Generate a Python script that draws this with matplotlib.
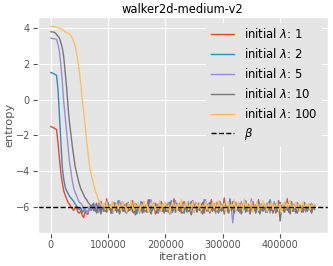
import numpy as np
import matplotlib
matplotlib.use('Agg')
import matplotlib.pyplot as plt

plt.style.use('ggplot')

# ==================== data ====================
iteration = np.arange(0, 460001, 2500)   # logging steps

entropy_lam1 = [
    -1.50, -1.54, -1.58, -1.63, -1.68, -2.40, -3.30, -4.10, -4.65, -5.10, -5.35, -5.55, -5.75, -5.85, -6.00,
    -6.10, -6.20, -6.00, -6.10, -6.30, -6.35, -6.20, -6.50, -6.60, -6.20, -6.40, -6.40, -6.00, -6.10,
    -5.85, -6.20, -6.00, -5.80, -6.30, -6.05, -5.70, -6.15, -5.95, -6.25, -5.55, -6.10,
    -5.90, -6.35, -6.00, -5.75, -6.20, -5.85, -6.10, -6.30, -5.95, -5.70, -6.15, -6.05,
    -5.80, -6.25, -5.90, -6.10, -5.65, -6.35, -6.00, -5.85, -6.20, -5.95, -6.10, -5.75,
    -6.30, -5.90, -6.05, -5.60, -6.20, -5.95, -6.15, -5.80, -6.40, -6.00, -5.85, -6.10,
    -5.70, -6.25, -5.95, -6.05, -5.85, -6.30, -5.75, -6.10, -6.00, -5.55, -6.20, -5.90,
    -6.15, -5.80, -6.35, -6.00, -5.70, -6.10, -5.90, -6.25, -5.85, -6.05, -5.65, -6.30,
    -5.95, -6.10, -5.80, -6.20, -6.00, -5.75, -6.35, -5.90, -6.15, -5.85, -6.05, -5.60,
    -6.25, -5.90, -6.10, -5.75, -6.30, -6.00, -5.85, -6.20, -5.50, -6.10, -5.95, -6.35,
    -5.80, -6.05, -5.70, -6.25, -5.90, -6.15, -6.00, -5.80, -6.30, -5.95, -6.10, -5.75,
    -6.20, -5.85, -6.40, -6.00, -5.70, -6.15, -5.90, -6.05, -5.60, -6.25, -5.95, -6.10,
    -5.85, -6.30, -6.00, -5.75, -6.20, -5.90, -6.10, -5.80, -6.35, -6.05, -5.65, -6.15,
    -5.95, -6.20, -5.80, -6.10, -5.55, -6.30, -6.00, -5.85, -6.25, -5.90, -6.05, -5.75,
    -6.15, -5.90, -6.30, -6.00, -5.80, -6.20, -5.95, -6.10, -5.85, -6.25, -6.00, -5.90,
]

entropy_lam2 = [
    1.52, 1.49, 1.45, 1.41, 1.36, 0.60, -0.85, -2.30, -3.80, -4.45, -4.88, -5.10, -5.25, -5.40, -5.50,
    -5.60, -5.70, -5.85, -5.95, -6.10, -6.15, -6.05, -6.30, -6.20, -6.10, -6.35, -6.25, -6.00, -6.20,
    -6.05, -5.80, -6.25, -5.95, -6.10, -5.70, -6.30, -6.00, -5.85, -6.20, -6.05, -5.75,
    -6.15, -5.90, -6.35, -6.00, -5.80, -6.10, -5.65, -6.25, -5.95, -6.05, -5.85, -6.30,
    -6.00, -5.75, -6.20, -5.90, -6.15, -6.05, -5.80, -6.40, -5.95, -6.10, -5.70, -6.25,
    -5.85, -6.05, -6.30, -5.90, -5.60, -6.15, -6.00, -5.80, -6.20, -5.95, -6.35, -6.05,
    -5.75, -6.10, -5.90, -6.25, -6.00, -5.85, -6.15, -5.65, -6.30, -5.95, -6.05, -5.80,
    -6.20, -5.90, -6.10, -5.75, -6.35, -6.00, -5.85, -6.20, -5.95, -5.70, -6.15, -6.05,
    -5.80, -6.25, -5.95, -6.10, -5.85, -6.30, -5.60, -6.05, -5.90, -6.20, -5.75, -6.10,
    -6.00, -5.85, -6.35, -5.95, -6.15, -5.70, -6.25, -6.00, -5.80, -6.10, -5.90, -6.30,
    -5.55, -6.05, -5.90, -6.20, -5.75, -6.15, -6.00, -5.85, -6.30, -5.95, -6.10, -5.65,
    -6.25, -5.90, -6.05, -5.80, -6.20, -5.95, -6.35, -6.00, -5.75, -6.15, -5.85, -6.10,
    -5.95, -6.30, -5.80, -6.05, -5.60, -6.20, -5.90, -6.10, -5.85, -6.25, -6.00, -5.75,
    -6.15, -5.90, -6.30, -5.95, -6.05, -5.80, -6.20, -5.70, -6.10, -5.95, -6.35, -6.00,
    -5.85, -6.10, -5.95, -6.25, -5.75, -6.05, -6.20, -5.90, -6.10, -5.85, -6.00, -6.15,
]

entropy_lam5 = [
    3.44, 3.43, 3.41, 3.40, 3.38, 3.10, 2.70, 1.95, 1.03, -0.10, -0.95, -1.75, -2.70, -3.45, -4.00,
    -4.55, -4.95, -5.20, -5.37, -5.60, -5.75, -5.80, -5.92, -6.15, -6.10, -6.35, -6.30, -6.00, -6.20,
    -5.95, -6.20, -5.85, -6.10, -6.30, -5.75, -6.05, -5.90, -6.25, -6.00, -5.70, -6.15,
    -5.90, -6.05, -6.35, -5.80, -6.10, -5.95, -6.20, -5.65, -6.00, -6.25, -5.85, -6.10,
    -6.30, -5.90, -6.05, -5.75, -6.20, -6.00, -5.85, -6.15, -5.95, -6.35, -5.80, -6.05,
    -5.70, -6.25, -5.90, -6.10, -6.00, -5.60, -6.20, -5.95, -6.05, -5.85, -6.30, -6.00,
    -6.15, -5.80, -6.10, -5.95, -6.25, -5.75, -6.05, -6.35, -5.90, -6.00, -5.65, -6.20,
    -5.85, -6.10, -5.95, -6.30, -5.80, -6.05, -6.15, -5.70, -6.25, -5.90, -6.00, -6.10,
    -5.75, -6.20, -6.05, -5.85, -6.35, -5.95, -6.10, -5.60, -6.00, -6.25, -5.90, -6.15,
    -6.00, -5.80, -6.30, -5.95, -6.10, -5.75, -6.20, -6.05, -5.85, -6.15, -5.95, -6.30,
    -5.90, -6.10, -6.90, -6.05, -5.80, -6.20, -5.95, -6.35, -5.70, -6.10, -6.00, -5.85,
    -6.25, -5.95, -6.05, -5.55, -6.20, -5.90, -6.15, -5.75, -6.30, -6.00, -5.85, -6.10,
    -5.95, -6.25, -5.80, -6.05, -6.35, -5.90, -6.10, -5.70, -6.20, -5.95, -6.05, -5.85,
    -6.15, -5.90, -6.30, -5.75, -6.05, -6.20, -5.95, -6.10, -5.85, -6.25, -6.00, -5.80,
    -6.10, -5.95, -6.20, -5.85, -6.05, -6.30, -5.90, -6.15, -6.00, -5.80, -6.10, -5.95,
]

entropy_lam10 = [
    3.80, 3.79, 3.78, 3.74, 3.65, 3.55, 3.45, 3.20, 2.90, 2.40, 1.58, 0.70, -0.36, -1.25, -1.93,
    -2.60, -3.18, -3.75, -4.10, -4.45, -4.75, -5.00, -5.15, -5.35, -5.50, -5.60, -5.75, -5.85, -5.95,
    -6.05,
    -6.20, -6.05, -6.35, -5.95, -6.15, -6.40, -6.00, -6.25, -5.85, -6.30, -6.10, -5.90,
    -6.35, -6.05, -6.20, -5.80, -6.30, -6.10, -6.40, -5.95, -6.15, -6.25, -5.90, -6.35,
    -6.05, -6.20, -5.85, -6.30, -6.00, -6.45, -6.10, -5.95, -6.25, -6.05, -6.35, -5.90,
    -6.15, -6.30, -5.95, -6.20, -6.40, -6.00, -6.10, -5.80, -6.35, -6.15, -6.00, -6.25,
    -5.90, -6.35, -6.10, -6.25, -5.95, -6.40, -6.05, -6.20, -5.85, -6.30, -6.10, -6.00,
    -6.25, -5.95, -6.35, -6.10, -6.00, -6.30, -5.85, -6.20, -6.45, -6.05, -6.15, -5.90,
    -6.30, -6.05, -6.20, -5.95, -6.40, -6.10, -6.00, -6.25, -5.80, -6.35, -6.15, -6.05,
    -5.95, -6.25, -6.10, -6.35, -6.00, -6.20, -5.90, -6.40, -6.05, -6.15, -6.30, -5.85,
    -6.20, -6.00, -6.35, -6.10, -5.95, -6.25, -6.05, -6.40, -6.15, -5.90, -6.30, -6.05,
    -6.10, -6.35, -5.95, -6.20, -6.05, -6.30, -5.85, -6.15, -6.40, -6.00, -6.25, -6.10,
    -5.95, -6.30, -6.05, -6.20, -5.90, -6.35, -6.10, -6.00, -6.25, -5.85, -6.80, -6.15,
    -6.05, -6.30, -5.95, -6.20, -6.10, -6.40, -6.00, -6.25, -5.90, -6.15, -6.35, -6.05,
    -6.20, -5.95, -6.30, -6.10, -6.00, -6.25, -5.85, -6.15, -6.35, -6.05, -5.95,
]

entropy_lam100 = [
    4.09, 4.09, 4.08, 4.07, 4.05, 4.03, 4.00, 3.96, 3.92, 3.86, 3.80, 3.76, 3.72, 3.67, 3.58,
    3.45, 3.25, 3.05, 2.58, 2.10, 1.50, 0.85, -0.10, -0.70, -1.51, -2.30, -2.98, -3.70, -4.12,
    -4.45, -4.77, -5.10, -5.30, -5.55, -5.72, -5.85,
    -6.00, -5.80, -6.15, -5.75, -6.20, -5.90, -6.05, -5.70, -6.25, -5.95, -5.80, -6.10,
    -5.85, -6.20, -5.70, -6.05, -5.95, -6.30, -5.80, -6.10, -5.65, -6.00, -6.20, -5.85,
    -6.10, -5.75, -6.25, -5.90, -6.00, -5.70, -6.15, -5.85, -6.30, -5.95, -5.75, -6.05,
    -5.80, -6.20, -5.95, -6.10, -5.65, -6.25, -5.85, -6.00, -5.75, -6.15, -5.90, -6.35,
    -5.95, -5.70, -6.10, -5.85, -6.20, -5.80, -6.05, -5.60, -6.25, -5.90, -6.00, -5.75,
    -6.15, -5.85, -6.00, -5.70, -6.30, -5.95, -5.80, -6.10, -5.75, -6.20, -5.90, -6.05,
    -5.70, -6.15, -5.85, -6.25, -5.95, -5.75, -6.05, -5.80, -6.20, -5.65, -6.10, -5.90,
    -6.05, -5.80, -6.30, -5.90, -5.70, -6.15, -5.85, -6.00, -5.60, -6.20, -5.95, -5.75,
    -6.10, -5.85, -6.25, -5.55, -6.00, -5.80, -6.15, -5.90, -5.70, -6.30, -5.95, -6.05,
    -5.75, -6.20, -5.90, -6.10, -5.65, -6.00, -5.85, -6.25, -5.80, -6.05, -5.70, -6.15,
    -5.90, -6.05, -5.75, -6.20, -5.85, -6.30, -5.95, -5.70, -6.10, -5.80, -6.00, -5.65,
    -6.20, -5.90, -6.05, -5.75, -6.15, -5.85, -6.25, -5.95, -5.70, -6.10, -5.85, -6.00,
    -5.80, -6.15, -5.90, -6.05, -5.85,
]

init_lambdas = ['1', '2', '5', '10', '100']
beta = -6.0

# ==================== plot ====================
fig = plt.figure(figsize=(3.33, 2.66), dpi=100)
ax = fig.add_axes([0.113, 0.125, 0.871, 0.812])

series = [entropy_lam1, entropy_lam2, entropy_lam5, entropy_lam10, entropy_lam100]
for lam, vals in zip(init_lambdas, series):
    ax.plot(iteration[:len(vals)], vals, lw=1.0, label=r'initial $\lambda$: ' + lam)
ax.axhline(beta, color='k', linestyle='--', lw=1.0, label=r'$\beta$')

ax.set_title('walker2d-medium-v2', fontsize=8.3, pad=3)
ax.set_xlabel('iteration', fontsize=8.2, labelpad=1)
ax.set_ylabel('entropy', fontsize=8.2, labelpad=1)
ax.set_xticks([0, 100000, 200000, 300000, 400000])
ax.set_yticks([-6, -4, -2, 0, 2, 4])
ax.tick_params(labelsize=7, pad=2)
ax.legend(loc='upper right', fontsize=8.4, frameon=True, facecolor='#E5E5E5',
          edgecolor='none', framealpha=1.0)

fig.savefig('out.png', dpi=100)
